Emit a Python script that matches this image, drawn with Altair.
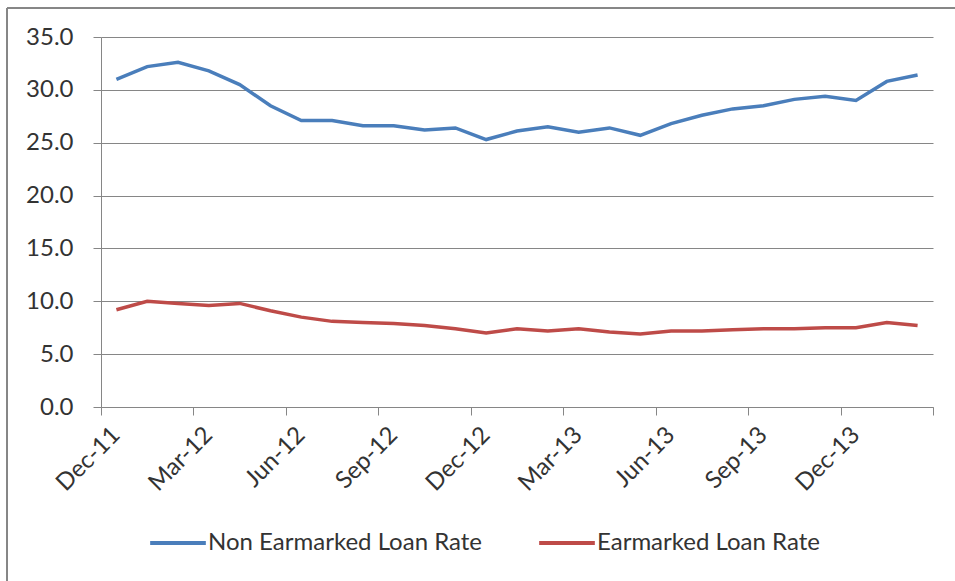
import altair as alt
import pandas as pd

months = ["Dec-11", "Jan-12", "Feb-12", "Mar-12", "Apr-12", "May-12", "Jun-12",
          "Jul-12", "Aug-12", "Sep-12", "Oct-12", "Nov-12", "Dec-12", "Jan-13",
          "Feb-13", "Mar-13", "Apr-13", "May-13", "Jun-13", "Jul-13", "Aug-13",
          "Sep-13", "Oct-13", "Nov-13", "Dec-13", "Jan-14", "Feb-14"]
non_earmarked = [31.0, 32.2, 32.6, 31.8, 30.5, 28.5, 27.1, 27.1, 26.6, 26.6,
                 26.2, 26.4, 25.3, 26.1, 26.5, 26.0, 26.4, 25.7, 26.8, 27.6,
                 28.2, 28.5, 29.1, 29.4, 29.0, 30.8, 31.4]
earmarked = [9.2, 10.0, 9.8, 9.6, 9.8, 9.1, 8.5, 8.1, 8.0, 7.9, 7.7, 7.4, 7.0,
             7.4, 7.2, 7.4, 7.1, 6.9, 7.2, 7.2, 7.3, 7.4, 7.4, 7.5, 7.5, 8.0, 7.7]
series_names = ["Non Earmarked Loan Rate", "Earmarked Loan Rate"]
series_colors = ["#4A7EBB", "#BE4B48"]
y_ticks = [0, 5, 10, 15, 20, 25, 30, 35]

rows = []
for name, vals in zip(series_names, [non_earmarked, earmarked]):
    for i, (m, v) in enumerate(zip(months, vals)):
        rows.append({"series": name, "month": m, "pos": i + 0.5, "value": v})
df = pd.DataFrame(rows)

n = len(months)
label_arr = "[" + ",".join("'" + m + "'" for m in months) + "]"
label_expr = f"datum.value < {n} ? {label_arr}[datum.value] : ''"

FONT = "Lato"
GRAY = "#868686"
FS = 24

lines = alt.Chart(df).mark_line(strokeWidth=3.5).encode(
    x=alt.X("pos:Q",
            scale=alt.Scale(domain=[0, n], nice=False, zero=False),
            axis=alt.Axis(values=list(range(0, n + 1, 3)), labelExpr=label_expr,
                          labelAngle=-45, labelAlign="right", labelBaseline="middle",
                          labelOffset=15, labelPadding=16, tickSize=8,
                          grid=False, title=None)),
    y=alt.Y("value:Q",
            scale=alt.Scale(domain=[0, 35], nice=False),
            axis=alt.Axis(values=y_ticks, format=".1f", tickSize=8,
                          labelPadding=20, title=None)),
    color=alt.Color("series:N",
                    scale=alt.Scale(domain=series_names, range=series_colors),
                    legend=alt.Legend(title=None, orient="none", direction="horizontal",
                                      legendX=47, legendY=476,
                                      symbolType="stroke", symbolSize=3100,
                                      symbolStrokeWidth=4, labelLimit=400,
                                      columnPadding=48, labelOffset=0)),
    order=alt.Order("pos:Q"),
)

frame = alt.Chart(df).mark_rect(fill=None, stroke=GRAY, strokeWidth=1).encode(
    x=alt.value(-94), x2=alt.value(1000), y=alt.value(-29), y2=alt.value(700)
)

chart = alt.layer(lines, frame).properties(
    width=832, height=370,
    padding={"left": 101, "top": 37, "right": 22, "bottom": 174},
    autosize=alt.AutoSizeParams(type="none"),
    background="white",
).configure_view(stroke=None).configure_axis(
    domainColor=GRAY, tickColor=GRAY, gridColor=GRAY, gridOpacity=1,
    labelFont=FONT, labelFontSize=FS, labelColor="#333333",
).configure_legend(
    labelFont=FONT, labelFontSize=FS, labelColor="#333333",
)

chart.save("out.html", embed_options={"renderer": "svg", "actions": False})
